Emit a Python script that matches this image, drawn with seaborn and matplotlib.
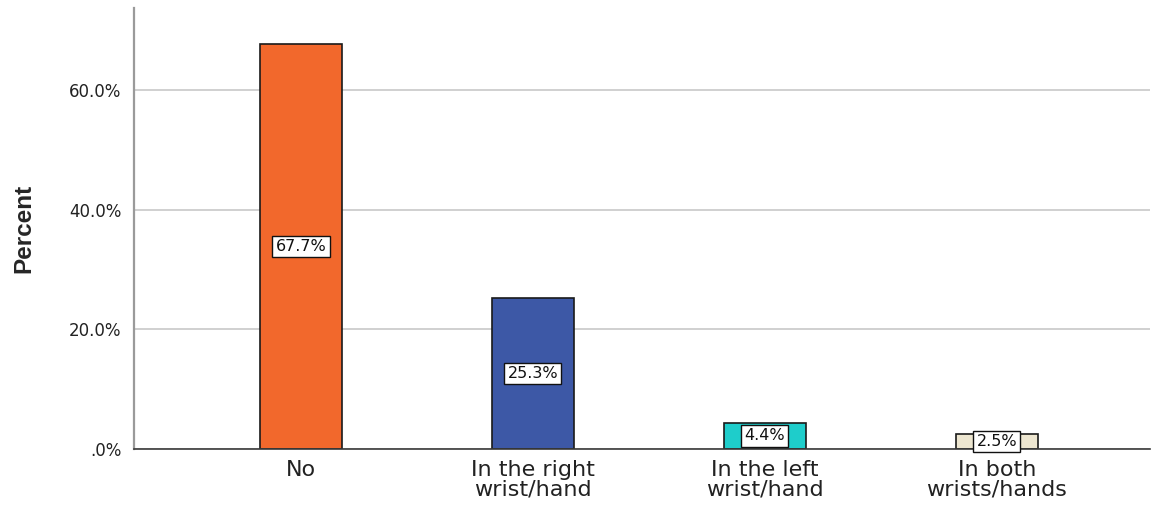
import matplotlib
matplotlib.use("Agg")
import matplotlib.pyplot as plt
import seaborn as sns
import pandas as pd
from matplotlib.ticker import FuncFormatter

categories = ["No", "In the right\nwrist/hand", "In the left\nwrist/hand", "In both\nwrists/hands"]
percents = [67.7, 25.3, 4.4, 2.5]
bar_colors = ["#F2682C", "#3D58A6", "#1ECDCB", "#EDE6D0"]
y_ticks = [0, 20, 40, 60]

sns.set_theme(style="white")
plt.rcParams['font.family'] = ['DejaVu Sans']

df = pd.DataFrame({"category": categories, "percent": percents})

fig = plt.figure(figsize=(11.63, 5.11), dpi=100)
ax = fig.add_axes([0.1152, 0.1213, 0.8736, 0.863])

sns.barplot(data=df, x="category", y="percent", hue="category", palette=bar_colors,
            saturation=1, legend=False, width=0.353, edgecolor="#1a1a1a", linewidth=1.2,
            ax=ax, zorder=3)

ax.set_xlim(-0.72, 3.66)
ax.set_ylim(0, 73.7)
ax.set_yticks(y_ticks)
ax.yaxis.set_major_formatter(FuncFormatter(lambda v, p: ("%.1f%%" % v) if v != 0 else ".0%"))
ax.grid(axis="y", color="#c8c8c8", linewidth=1.2, zorder=0)
ax.set_axisbelow(True)

for s in ["top", "right"]:
    ax.spines[s].set_visible(False)
ax.spines["left"].set_color("#9a9a9a")
ax.spines["left"].set_linewidth(1.6)
ax.spines["bottom"].set_color("#3a3a3a")
ax.spines["bottom"].set_linewidth(1.2)
ax.spines["bottom"].set_zorder(4)

ax.tick_params(axis="y", labelsize=12, colors="#222222", length=0, pad=9)
ax.tick_params(axis="x", labelsize=16, colors="#222222", length=0, pad=8)
for lbl in ax.get_xticklabels():
    lbl.set_linespacing(0.95)
ax.set_xlabel("")
ax.set_ylabel("Percent", fontsize=17.5, fontweight="bold", labelpad=24,
              family=['Liberation Sans Narrow', 'Liberation Sans', 'DejaVu Sans'])

for i, v in enumerate(percents):
    ax.text(i, v / 2, "%.1f%%" % v, ha="center", va="center", fontsize=11.5, color="#111111",
            zorder=5, bbox=dict(boxstyle="square,pad=0.2", fc="white", ec="#111111", lw=1.0))

fig.savefig("out.png", dpi=100)
